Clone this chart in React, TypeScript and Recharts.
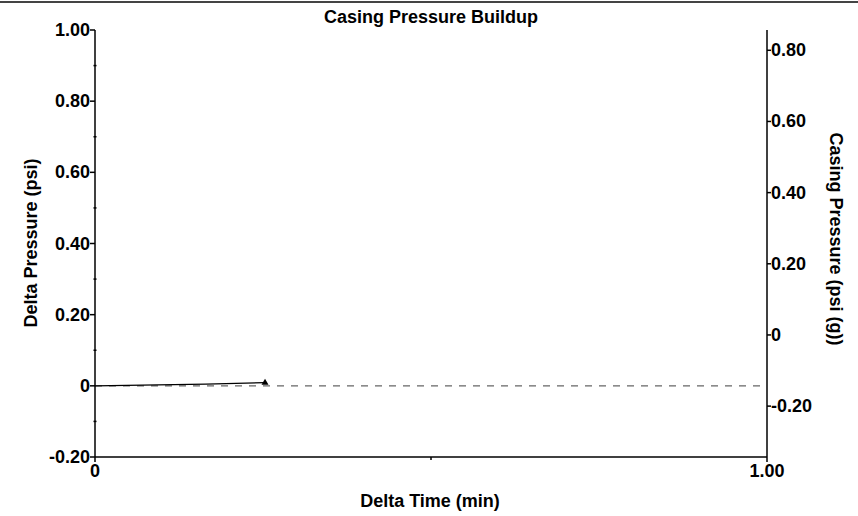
import React from "react";
import {
  ComposedChart,
  Line,
  XAxis,
  YAxis,
  ReferenceLine,
} from "recharts";

// Delta time (min) vs delta pressure (psi)
const deltaTime = [0, 0.07, 0.165, 0.253];
const deltaPressure = [0, 0.002, 0.005, 0.009];

const leftTicks = [-0.2, -0.1, 0, 0.1, 0.2, 0.3, 0.4, 0.5, 0.6, 0.7, 0.8, 0.9, 1.0];
const leftMajor = [-0.2, 0, 0.2, 0.4, 0.6, 0.8, 1.0];
const rightTicks = [-0.2, 0, 0.2, 0.4, 0.6, 0.8];
const xTicks = [0, 0.5, 1.0];
const xMajor = [0, 1.0];

const FONT = "'Liberation Sans', Arial, Helvetica, sans-serif";
const SIZE = 18;

const fmt = (v: number) => (Math.abs(v) < 1e-9 ? "0" : v.toFixed(2));
const isMajor = (list: number[], v: number) => list.some((m) => Math.abs(m - v) < 1e-6);

const data = deltaTime.map((t, i) => ({ t, p: deltaPressure[i] }));

const LeftTick = (props: any) => {
  const { x, y, payload } = props;
  const v = payload.value as number;
  const ax = x + 8; // axis position
  if (!isMajor(leftMajor, v)) {
    return <line x1={ax - 1.5} x2={ax + 1.5} y1={y} y2={y} stroke="#000" strokeWidth={1.5} />;
  }
  return (
    <g>
      <line x1={ax - 5} x2={ax} y1={y} y2={y} stroke="#000" strokeWidth={1.5} />
      <text x={ax - 5} y={y + 6} textAnchor="end" fontSize={SIZE} fontWeight="bold" fontFamily={FONT} fill="#000">
        {fmt(v)}
      </text>
    </g>
  );
};

const RightTick = (props: any) => {
  const { x, y, payload } = props;
  const v = payload.value as number;
  const ax = x - 8;
  return (
    <g>
      <line x1={ax} x2={ax + 4} y1={y} y2={y} stroke="#000" strokeWidth={1.5} />
      <text x={ax + 4} y={y + 6} textAnchor="start" fontSize={SIZE} fontWeight="bold" fontFamily={FONT} fill="#000">
        {fmt(v)}
      </text>
    </g>
  );
};

const BottomTick = (props: any) => {
  const { x, y, payload } = props;
  const v = payload.value as number;
  const ay = y - 8;
  if (!isMajor(xMajor, v)) {
    return <line x1={x} x2={x} y1={ay} y2={ay + 3} stroke="#000" strokeWidth={1.5} />;
  }
  return (
    <g>
      <line x1={x} x2={x} y1={ay} y2={ay + 5} stroke="#000" strokeWidth={1.5} />
      <text x={x} y={ay + 20} textAnchor="middle" fontSize={SIZE} fontWeight="bold" fontFamily={FONT} fill="#000">
        {fmt(v)}
      </text>
    </g>
  );
};

const EndMarker = (props: any) => {
  const { cx, cy, index } = props;
  if (index !== data.length - 1) return <g key={`d-${index}`} />;
  return (
    <path
      key={`d-${index}`}
      d={`M${cx},${cy - 4} L${cx + 3.5},${cy + 2} L${cx - 3.5},${cy + 2} Z`}
      fill="#000"
    />
  );
};

const textStyle = { fontFamily: FONT, fontWeight: "bold" as const, fill: "#000" };

export default function App() {
  return (
    <div style={{ position: "absolute", left: 0, top: 0, width: 858, height: 516, background: "#fff" }}>
      <div style={{ position: "absolute", left: 0, top: 1, width: 858, height: 2, background: "#444" }} />
      <ComposedChart
        width={858}
        height={516}
        data={data}
        margin={{ top: 30, right: 0, bottom: 0, left: 0 }}
      >
        <XAxis
          dataKey="t"
          type="number"
          domain={[0, 1]}
          ticks={xTicks}
          interval={0}
          height={59}
          axisLine={{ stroke: "#000", strokeWidth: 1.5 }}
          tickLine={false}
          tick={<BottomTick />}
          label={{
            content: () => (
              <text x={430} y={507} textAnchor="middle" fontSize={SIZE} {...textStyle}>
                Delta Time (min)
              </text>
            ),
          }}
        />
        <YAxis
          yAxisId="left"
          type="number"
          domain={[-0.2, 1.0]}
          ticks={leftTicks}
          interval={0}
          width={95}
          axisLine={{ stroke: "#000", strokeWidth: 1.5 }}
          tickLine={false}
          tick={<LeftTick />}
          label={{
            content: () => (
              <text
                x={37}
                y={243}
                textAnchor="middle"
                fontSize={SIZE}
                transform="rotate(-90 37 243)"
                {...textStyle}
              >
                Delta Pressure (psi)
              </text>
            ),
          }}
        />
        <YAxis
          yAxisId="right"
          orientation="right"
          type="number"
          domain={[-0.343, 0.857]}
          allowDataOverflow
          ticks={rightTicks}
          interval={0}
          width={91}
          axisLine={{ stroke: "#000", strokeWidth: 1.5 }}
          tickLine={false}
          tick={<RightTick />}
          label={{
            content: () => (
              <text
                x={830}
                y={239}
                textAnchor="middle"
                fontSize={SIZE}
                transform="rotate(90 830 239)"
                {...textStyle}
              >
                Casing Pressure (psi (g))
              </text>
            ),
          }}
        />
        <ReferenceLine
          yAxisId="left"
          y={0}
          stroke="#666"
          strokeWidth={1.2}
          strokeDasharray="7 7"
          ifOverflow="extendDomain"
        />
        <Line
          yAxisId="left"
          dataKey="p"
          type="linear"
          stroke="#000"
          strokeWidth={1.2}
          dot={<EndMarker />}
          activeDot={false}
          isAnimationActive={false}
        />
        <text x={431} y={23} textAnchor="middle" fontSize={SIZE} {...textStyle}>
          Casing Pressure Buildup
        </text>
      </ComposedChart>
    </div>
  );
}
